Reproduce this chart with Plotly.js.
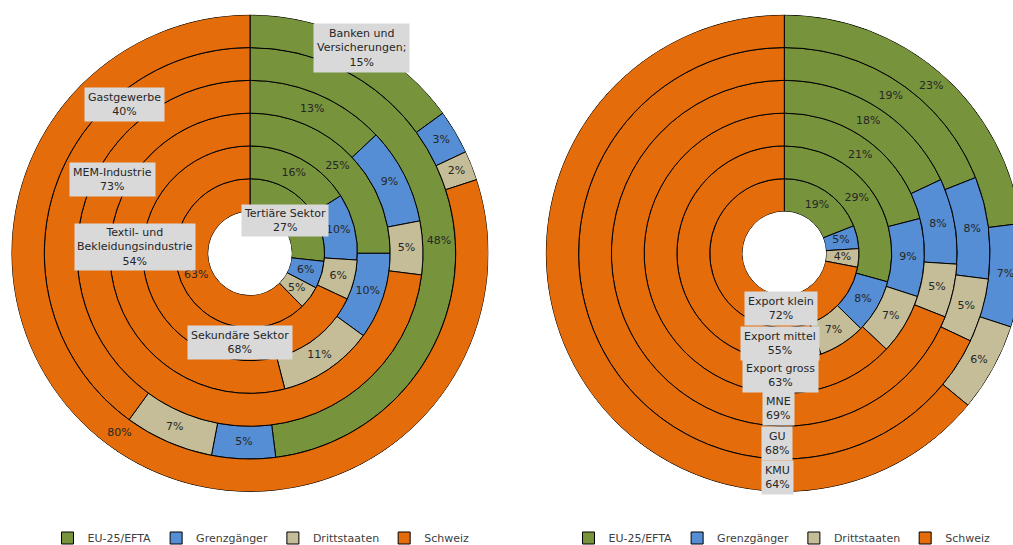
<!DOCTYPE html>
<html><head><meta charset="utf-8">
<script src="https://cdn.plot.ly/plotly-3.0.1.min.js"></script>
<style>html,body{margin:0;padding:0;overflow:hidden;background:#fff}#chart{width:1040px;height:545px}</style>
</head><body><div id="chart"></div>
<script>
// ---- data ----
const seriesNames  = ["EU-25/EFTA", "Grenzgänger", "Drittstaaten", "Schweiz"];
const seriesColors = ["#77933C", "#558ED5", "#C4BD97", "#E46C0A"];

// left chart, rings from inner to outer
const leftRings  = ["Tertiäre Sektor", "Sekundäre Sektor", "Textil- und<br>Bekleidungsindustrie", "MEM-Industrie", "Gastgewerbe", "Banken und<br>Versicherungen;"];
const leftEU     = [27, 16, 25, 13, 48, 15];
const leftGrenz  = [6, 10, 10, 9, 5, 3];
const leftDritt  = [5, 6, 11, 5, 7, 2];
const leftCH     = [63, 68, 54, 73, 40, 80];

// right chart, rings from inner to outer
const rightRings = ["Export klein", "Export mittel", "Export gross", "MNE", "GU", "KMU"];
const rightEU    = [19, 29, 21, 18, 19, 23];
const rightGrenz = [5, 8, 9, 8, 8, 7];
const rightDritt = [4, 7, 7, 5, 5, 6];
const rightCH    = [72, 55, 63, 69, 68, 64];

// ---- layout geometry (pixels) ----
const W = 1040, H = 545, R = 238.5, HOLE = 41.8 / 238.5;
const leftC = [250, 253.3], rightC = [784.3, 253.3];
const FONT = "DejaVu Sans";
const TXT = "#262626";

// boxed labels: which ring/series is boxed and where the box sits (px)
const leftBoxes = [
  {ring: 0, s: 0, px: 284.5, py: 220, pad: 2},
  {ring: 1, s: 3, px: 239.5, py: 342.5, pad: 3},
  {ring: 2, s: 3, px: 135,   py: 247, pad: 2},
  {ring: 3, s: 3, px: 112.5, py: 179, pad: 3},
  {ring: 4, s: 3, px: 124,   py: 105, pad: 3},
  {ring: 5, s: 0, px: 361.5, py: 47.5, pad: 3}
];
const rightBoxes = [
  {ring: 0, s: 3, px: 781,   py: 308, pad: 3},
  {ring: 1, s: 3, px: 779.5, py: 343, pad: 3},
  {ring: 2, s: 3, px: 780,   py: 375, pad: 3},
  {ring: 3, s: 3, px: 778,   py: 408.5, pad: 3},
  {ring: 4, s: 3, px: 777,   py: 443, pad: 3},
  {ring: 5, s: 3, px: 777,   py: 477, pad: 3}
];

function buildChart(series, ringLabels, boxes, polarId, legendId) {
  const nR = series[0].length;
  const totals = [];
  for (let i = 0; i < nR; i++) totals.push(series.reduce((a, s) => a + s[i], 0));
  const traces = [];
  const cum = new Array(nR).fill(0);
  const labR = [], labT = [], labTxt = [];
  series.forEach((vals, si) => {
    const theta = [], width = [], base = [], r = [];
    vals.forEach((v, i) => {
      const w = v / totals[i] * 360;
      const c = cum[i] + w / 2;
      theta.push(c); width.push(w); base.push(i); r.push(1);
      cum[i] += w;
      const boxed = boxes.some(b => b.ring === i && b.s === si);
      if (!boxed) { labR.push(i + 0.5); labT.push(c); labTxt.push(v + "%"); }
    });
    traces.push({
      type: "barpolar", subplot: polarId, legend: legendId,
      name: seriesNames[si], r: r, base: base, theta: theta, width: width,
      marker: {color: seriesColors[si], line: {color: "#000000", width: 1}},
      hoverinfo: "name+text", text: vals.map(v => v + "%")
    });
  });
  traces.push({
    type: "scatterpolar", subplot: polarId, mode: "text", showlegend: false,
    r: labR, theta: labT, text: labTxt, hoverinfo: "skip",
    textfont: {family: FONT, size: 11, color: TXT}
  });
  const anns = boxes.map(b => ({
    xref: "paper", yref: "paper", x: b.px / W, y: 1 - b.py / H,
    xanchor: "center", yanchor: "middle", showarrow: false,
    text: ringLabels[b.ring] + "<br>" + series[b.s][b.ring] + "%",
    bgcolor: "#D9D9D9", borderpad: b.pad,
    font: {family: FONT, size: 11, color: TXT}
  }));
  return {traces, anns};
}

const L = buildChart([leftEU, leftGrenz, leftDritt, leftCH], leftRings, leftBoxes, "polar", "legend");
const Rr = buildChart([rightEU, rightGrenz, rightDritt, rightCH], rightRings, rightBoxes, "polar2", "legend2");

function polarLayout(c) {
  return {
    domain: {x: [(c[0] - R) / W, (c[0] + R) / W], y: [1 - (c[1] + R) / H, 1 - (c[1] - R) / H]},
    hole: HOLE, bgcolor: "rgba(0,0,0,0)",
    radialaxis: {visible: false, range: [0, 6]},
    angularaxis: {visible: false, direction: "clockwise", rotation: 90}
  };
}
function legendLayout(cx) {
  return {
    orientation: "h", xref: "container", yref: "container",
    x: cx / W, xanchor: "center", y: 1 - 538 / H, yanchor: "middle",
    font: {family: FONT, size: 11, color: "#404040"}, itemwidth: 30,
    bgcolor: "rgba(0,0,0,0)", traceorder: "normal"
  };
}

const layout = {
  width: W, height: H, margin: {l: 0, r: 0, t: 0, b: 0, autoexpand: false},
  paper_bgcolor: "#ffffff", showlegend: true,
  polar: polarLayout(leftC), polar2: polarLayout(rightC),
  legend: legendLayout(261), legend2: legendLayout(782),
  annotations: L.anns.concat(Rr.anns),
  font: {family: FONT}
};
Plotly.newPlot("chart", L.traces.concat(Rr.traces), layout, {displayModeBar: false, staticPlot: true});
</script></body></html>
